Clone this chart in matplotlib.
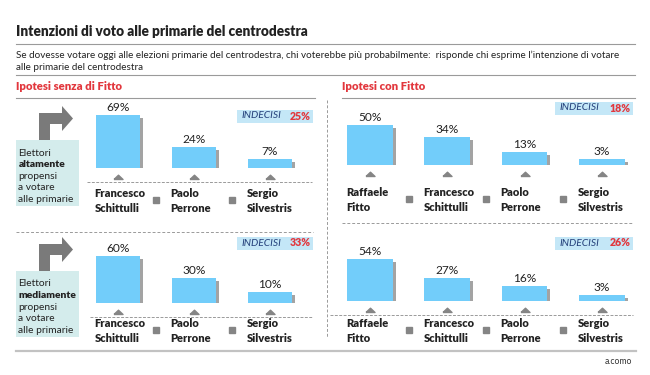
import matplotlib.pyplot as plt
import matplotlib.transforms as mtransforms
from matplotlib.patches import Rectangle, Polygon

# data
names_senza = ['Francesco\nSchittulli', 'Paolo\nPerrone', 'Sergio\nSilvestris']
names_con = ['Raffaele\nFitto', 'Francesco\nSchittulli', 'Paolo\nPerrone', 'Sergio\nSilvestris']
alta_senza = [69, 24, 7]
alta_con = [50, 34, 13, 3]
media_senza = [60, 30, 10]
media_con = [54, 27, 16, 3]
indecisi_senza = [25, 33]
indecisi_con = [18, 26]
propensione = ['altamente', 'mediamente']

W, H = 650, 375
BLUE = '#72cdfa'
SHADOW = '#a3a3a3'
GREY = '#858585'
RED = '#e2373d'
NAVY = '#24407a'
SCALE = 0.72  # pixels per percentage point
TRI = [(-1, 0), (1, 0), (0, 0.95), (-1, 0)]  # flat triangle marker

plt.rcParams['font.family'] = ['Lato', 'DejaVu Sans']
fig = plt.figure(figsize=(6.5, 3.75), dpi=100)
bg = fig.add_axes([0, 0, 1, 1])
bg.set_xlim(0, W)
bg.set_ylim(H, 0)
bg.axis('off')

# header
bg.text(16, 32, 'Intenzioni di voto alle primarie del centrodestra', fontsize=9.8,
        fontweight='heavy', va='center', color='#222222')
bg.plot([16, 635], [44, 44], color='#9a9a9a', lw=0.8)
bg.text(16, 55, 'Se dovesse votare oggi alle elezioni primarie del centrodestra, chi voterebbe '
        'più probabilmente:  risponde chi esprime l’intenzione di votare',
        fontsize=7.1, va='center', color='#222222')
bg.text(16, 67, 'alle primarie del centrodestra', fontsize=7.1, va='center', color='#222222')
bg.plot([16, 635], [75, 75], color='#9a9a9a', lw=0.8)
bg.text(16, 87, 'Ipotesi senza di Fitto', fontsize=8.2, fontweight='heavy', va='center', color=RED)
bg.text(342, 87, 'Ipotesi con Fitto', fontsize=8.2, fontweight='heavy', va='center', color=RED)
bg.plot([16, 315], [98, 98], color='#9a9a9a', lw=0.8)
bg.plot([342, 635], [98, 98], color='#9a9a9a', lw=0.8)

# separators
bg.plot([327, 327], [100, 338], color='#9a9a9a', lw=0.7, ls=(0, (3, 2)))
bg.plot([16, 313], [232, 232], color='#9a9a9a', lw=0.7, ls=(0, (3, 2)))
bg.plot([342, 633], [223, 223], color='#9a9a9a', lw=0.7, ls=(0, (3, 2)))
bg.plot([16, 636], [351, 351], color='#c2c2c2', lw=1.6)
bg.text(632, 361, 'a.como', fontsize=6.2, ha='right', va='center', color='#333333')


def side_box(dy, word):
    arrow = [(39, 140), (39, 113), (62, 113), (62, 106), (73, 118.5), (62, 131),
             (62, 124), (50, 124), (50, 140)]
    bg.add_patch(Polygon([(x, y + dy) for x, y in arrow], closed=True, color='#7a7a7a', lw=0))
    bg.add_patch(Rectangle((16, 140 + dy), 63, 66, color='#d4ecec', lw=0))
    lines = ['Elettori', word, 'propensi', 'a votare', 'alle primarie']
    for k, t in enumerate(lines):
        bg.text(18.5, 153 + dy + k * 11.6, t, fontsize=7.4, va='center', color='#222222',
                fontweight='heavy' if k == 1 else 'normal')


def panel(vals, names, undec, cx0, step, base, box, name_y, baseline=None):
    n = len(vals)
    ax = fig.add_axes([(cx0 - step / 2) / W, 1 - base / H, n * step / W, 85 * SCALE / H])
    ax.set_xlim(-0.5, n - 0.5)
    ax.set_ylim(-5, 80)
    ax.axis('off')
    x = list(range(n))
    heights = [v + 5 for v in vals]
    shadow = mtransforms.offset_copy(ax.transData, fig=fig, x=3, y=-3, units='dots')
    ax.bar(x, heights, bottom=-5, width=0.59, color=SHADOW, transform=shadow)
    ax.bar(x, heights, bottom=-5, width=0.59, color=BLUE)
    lab = mtransforms.offset_copy(ax.transData, fig=fig, y=2, units='dots')
    for i, v in enumerate(vals):
        ax.text(i, v, f'{v}%', ha='center', va='bottom', fontsize=8.6,
                color='#222222', transform=lab)
    mix = mtransforms.blended_transform_factory(ax.transData, bg.transData)
    bg.plot(x, [base + 11] * n, ls='none', marker=TRI, ms=6.5, color=GREY, transform=mix)
    for i, nm in enumerate(names):
        bg.text(i - 0.31, name_y, nm, ha='left', va='top', fontsize=8, fontweight='heavy',
                color='#222222', linespacing=1.4, transform=mix)
    bg.plot([i + 0.5 for i in range(n - 1)], [name_y + 12] * (n - 1), ls='none',
            marker='s', ms=5, color=GREY, transform=mix)
    if baseline:
        bg.plot(baseline, [base + 14] * 2, color='#9a9a9a', lw=0.7, ls=(0, (3, 1.5)))
    x0, x1, yc = box
    bg.add_patch(Rectangle((x0, yc - 6.5), x1 - x0, 13, color='#c4e7f7', lw=0))
    bg.text(x0 + 4, yc, 'INDECISI', fontsize=7.4, style='italic', color=NAVY, va='center')
    bg.text(x1 - 2, yc, f'{undec}%', fontsize=7.6, fontweight='heavy', color=RED,
            va='center', ha='right')


side_box(0, propensione[0])
side_box(131, propensione[1])

panel(alta_senza, names_senza, indecisi_senza[0], 118, 76, 168, (237, 313, 116), 188, (87, 312))
panel(alta_con, names_con, indecisi_con[0], 370, 77.3, 165, (555, 633, 108), 187)
panel(media_senza, names_senza, indecisi_senza[1], 118, 76, 303, (237, 313, 243), 318, (90, 312))
panel(media_con, names_con, indecisi_con[1], 370, 77.3, 301, (555, 633, 243), 318, (330, 633))

fig.savefig('out.png', dpi=100)
